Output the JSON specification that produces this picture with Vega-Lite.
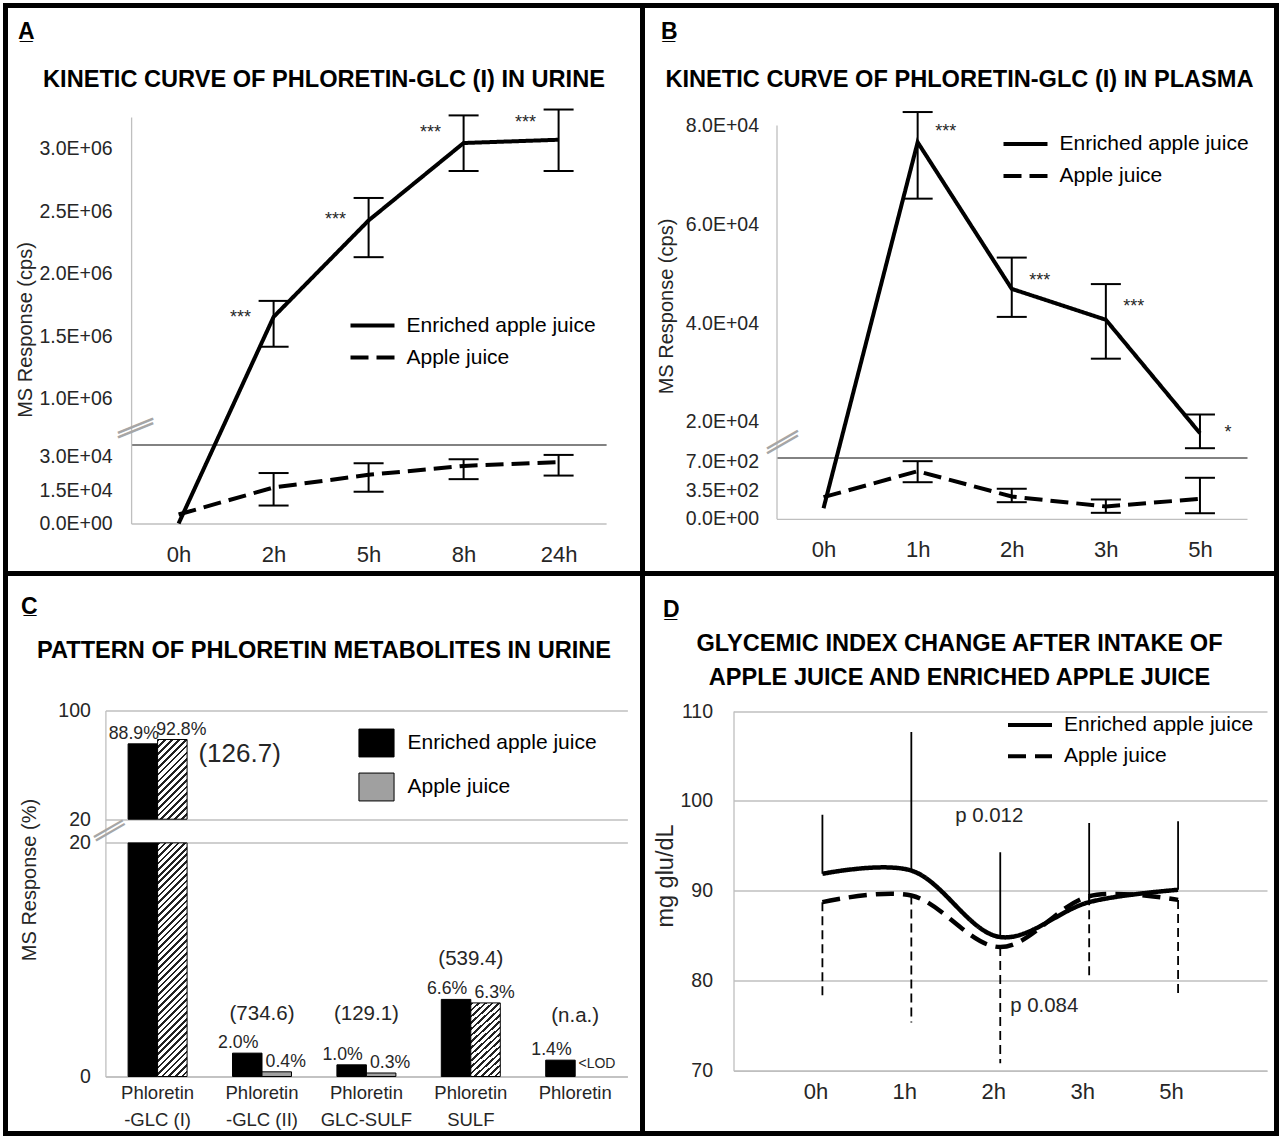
{
"$schema": "https://vega.github.io/schema/vega-lite/v6.json",
"background": "white",
"padding": {"left": 2.5, "top": 2.5, "right": 0, "bottom": 0},
"columns": 2,
"spacing": 0,
"bounds": "flush",
"resolve": {"scale": {"strokeDash": "independent", "fill": "independent", "xOffset": "independent"}, "legend": {"strokeDash": "independent", "fill": "independent"}},
"config": {
  "view": {"stroke": "black", "strokeWidth": 5, "fill": "white"},
  "font": "Liberation Sans",
  "axis": {"ticks": false, "grid": false, "domainColor": "#bfbfbf", "domainWidth": 1.3, "labelColor": "#262626", "labelFont": "Liberation Sans", "labelOverlap": false, "labelFlush": false, "labelBound": false, "titleFont": "Liberation Sans", "titleFontWeight": "normal", "titleColor": "#262626", "gridColor": "#bfbfbf", "gridWidth": 1.3},
  "legend": {"padding": 0, "labelFont": "Liberation Sans", "labelFontSize": 21, "labelColor": "black", "labelLimit": 400},
  "title": {"font": "Liberation Sans", "fontWeight": "bold", "fontSize": 23.6, "color": "black", "anchor": "middle", "frame": "group"},
  "text": {"font": "Liberation Sans", "color": "#262626"}
},
"concat": [
  {
   "width": 637, "height": 568,
   "title": {"text": "KINETIC CURVE OF PHLORETIN-GLC (I) IN URINE", "offset": -86},
   "data": {"values": [
     {"time": "0h", "series": "Enriched apple juice", "value": 0, "lo": null, "hi": null},
     {"time": "2h", "series": "Enriched apple juice", "value": 1655000, "lo": 1416000, "hi": 1783000},
     {"time": "5h", "series": "Enriched apple juice", "value": 2427000, "lo": 2133000, "hi": 2607000},
     {"time": "8h", "series": "Enriched apple juice", "value": 3047000, "lo": 2823000, "hi": 3268000},
     {"time": "24h", "series": "Enriched apple juice", "value": 3073000, "lo": 2823000, "hi": 3315000},
     {"time": "0h", "series": "Apple juice", "value": 4060, "lo": null, "hi": null},
     {"time": "2h", "series": "Apple juice", "value": 16200, "lo": 8080, "hi": 22700},
     {"time": "5h", "series": "Apple juice", "value": 21900, "lo": 14290, "hi": 27100},
     {"time": "8h", "series": "Apple juice", "value": 25900, "lo": 19950, "hi": 28900},
     {"time": "24h", "series": "Apple juice", "value": 27600, "lo": 21560, "hi": 30850}
   ]},
   "encoding": {
     "x": {"field": "time", "type": "nominal", "sort": ["0h", "2h", "5h", "8h", "24h"],
       "scale": {"type": "point", "range": [125.6, 600.6], "padding": 0.5},
       "axis": {"offset": -50, "labelAngle": 0, "labelFontSize": 22, "labelPadding": 20.5, "title": "A\u0332", "titleFont": "Liberation Sans", "titleFontWeight": "bold", "titleFontSize": 23, "titleColor": "black", "titleAlign": "left", "titleBaseline": "alphabetic", "titleX": 12, "titleY": -485}},
     "y": {"field": "value", "type": "quantitative", "title": "MS Response (cps)",
       "scale": {"domain": [0, 35357, 630100, 3256000], "range": [518, 439.4, 439.4, 111.4], "nice": false, "zero": false},
       "axis": {"offset": -125.6, "values": [0, 15000, 30000, 35357, 1000000, 1500000, 2000000, 2500000, 3000000],
         "labelExpr": "datum.value == 35357 ? '' : datum.value == 0 ? '0.0E+00' : format(datum.value / pow(10, floor(log(datum.value) / LN10 + 1e-9)), '.1f') + 'E+' + (floor(log(datum.value) / LN10 + 1e-9) < 10 ? '0' : '') + floor(log(datum.value) / LN10 + 1e-9)",
         "labelFontSize": 19.5, "labelPadding": 19, "grid": true, "gridColor": "#595959",
         "gridOpacity": {"condition": {"test": "datum.value == 35357", "value": 1}, "value": 0},
         "titleFontSize": 20, "titleX": -106, "titleY": 324, "titleBaseline": "middle"}}
   },
   "layer": [
     {"mark": {"type": "line", "color": "black", "strokeWidth": 4},
      "encoding": {"order": {"value": null},
        "strokeDash": {"field": "series", "type": "nominal", "scale": {"domain": ["Enriched apple juice", "Apple juice"], "range": [[1, 0], [18, 8]]},
          "legend": {"orient": "none", "legendX": 355, "legendY": 308, "title": null, "symbolType": "M-2.2,0H2.2", "symbolSize": 400, "symbolStrokeWidth": 4, "symbolStrokeColor": "black", "labelOffset": 22, "rowPadding": 10}}}},
     {"mark": {"type": "rule", "color": "black", "strokeWidth": 2},
      "encoding": {"y": {"field": "lo", "type": "quantitative", "title": "MS Response (cps)"}, "y2": {"field": "hi"}}},
     {"mark": {"type": "tick", "color": "black", "size": 30, "thickness": 2, "opacity": 1},
      "encoding": {"y": {"field": "lo", "type": "quantitative", "title": "MS Response (cps)"}}},
     {"mark": {"type": "tick", "color": "black", "size": 30, "thickness": 2, "opacity": 1},
      "encoding": {"y": {"field": "hi", "type": "quantitative", "title": "MS Response (cps)"}}},
     {"data": {"values": [
        {"time": "2h", "ypos": 1690000, "stars": "***"},
        {"time": "5h", "ypos": 2471000, "stars": "***"},
        {"time": "8h", "ypos": 3169000, "stars": "***"},
        {"time": "24h", "ypos": 3251000, "stars": "***"}
      ]},
      "mark": {"type": "text", "fontSize": 18, "dx": -33, "dy": 10, "baseline": "alphabetic"},
      "encoding": {"y": {"field": "ypos", "type": "quantitative", "title": "MS Response (cps)"}, "text": {"field": "stars"}}},
     {"data": {"values": [
        {"time": "0h", "ypos": 779000, "brk": "\u2502"},
        {"time": "0h", "ypos": 743800, "brk": "\u2502"}
      ]},
      "mark": {"type": "text", "font": "DejaVu Sans", "fontSize": 32, "angle": 68, "align": "center", "baseline": "middle", "dx": -16.5, "dy": 40.8, "color": "#a6a6a6"},
      "encoding": {"y": {"field": "ypos", "type": "quantitative", "title": "MS Response (cps)"}, "text": {"field": "brk"}}}
   ]
  },
  {
   "width": 634, "height": 568,
   "title": {"text": "KINETIC CURVE OF PHLORETIN-GLC (I) IN PLASMA", "offset": -86},
   "data": {"values": [
     {"time": "0h", "series": "Enriched apple juice", "value": 130, "lo": null, "hi": null},
     {"time": "1h", "series": "Enriched apple juice", "value": 76700, "lo": 65250, "hi": 82830},
     {"time": "2h", "series": "Enriched apple juice", "value": 46940, "lo": 41250, "hi": 53290},
     {"time": "3h", "series": "Enriched apple juice", "value": 40670, "lo": 32770, "hi": 47910},
     {"time": "5h", "series": "Enriched apple juice", "value": 17645, "lo": 14600, "hi": 21440},
     {"time": "0h", "series": "Apple juice", "value": 264, "lo": null, "hi": null},
     {"time": "1h", "series": "Apple juice", "value": 582, "lo": 447, "hi": 704},
     {"time": "2h", "series": "Apple juice", "value": 272, "lo": 203, "hi": 367},
     {"time": "3h", "series": "Apple juice", "value": 150, "lo": 73, "hi": 236},
     {"time": "5h", "series": "Apple juice", "value": 244, "lo": 68, "hi": 501}
   ]},
   "encoding": {
     "x": {"field": "time", "type": "nominal", "sort": ["0h", "1h", "2h", "3h", "5h"],
       "scale": {"type": "point", "range": [134, 604.5], "padding": 0.5},
       "axis": {"offset": -54.7, "labelAngle": 0, "labelFontSize": 22, "labelPadding": 20.7, "title": "B\u0332", "titleFont": "Liberation Sans", "titleFontWeight": "bold", "titleFontSize": 23, "titleColor": "black", "titleAlign": "left", "titleBaseline": "alphabetic", "titleX": 18, "titleY": -480}},
     "y": {"field": "value", "type": "quantitative", "title": "MS Response (cps)",
       "scale": {"domain": [0, 752.5, 12774, 80220], "range": [513.3, 451.7, 451.7, 119.4], "nice": false, "zero": false},
       "axis": {"offset": -134, "values": [0, 350, 700, 752.5, 20000, 40000, 60000, 80000],
         "labelExpr": "datum.value == 752.5 ? '' : datum.value == 0 ? '0.0E+00' : format(datum.value / pow(10, floor(log(datum.value) / LN10 + 1e-9)), '.1f') + 'E+' + (floor(log(datum.value) / LN10 + 1e-9) < 10 ? '0' : '') + floor(log(datum.value) / LN10 + 1e-9)",
         "labelFontSize": 19.5, "labelPadding": 18, "grid": true, "gridColor": "#595959",
         "gridOpacity": {"condition": {"test": "datum.value == 752.5", "value": 1}, "value": 0},
         "titleFontSize": 20, "titleX": -110.5, "titleY": 300.5, "titleBaseline": "middle"}}
   },
   "layer": [
     {"mark": {"type": "line", "color": "black", "strokeWidth": 4},
      "encoding": {"order": {"value": null},
        "strokeDash": {"field": "series", "type": "nominal", "scale": {"domain": ["Enriched apple juice", "Apple juice"], "range": [[1, 0], [18, 8]]},
          "legend": {"orient": "none", "legendX": 371, "legendY": 126.5, "title": null, "symbolType": "M-2.2,0H2.2", "symbolSize": 400, "symbolStrokeWidth": 4, "symbolStrokeColor": "black", "labelOffset": 22, "rowPadding": 10}}}},
     {"mark": {"type": "rule", "color": "black", "strokeWidth": 2},
      "encoding": {"y": {"field": "lo", "type": "quantitative", "title": "MS Response (cps)"}, "y2": {"field": "hi"}}},
     {"mark": {"type": "tick", "color": "black", "size": 30, "thickness": 2, "opacity": 1},
      "encoding": {"y": {"field": "lo", "type": "quantitative", "title": "MS Response (cps)"}}},
     {"mark": {"type": "tick", "color": "black", "size": 30, "thickness": 2, "opacity": 1},
      "encoding": {"y": {"field": "hi", "type": "quantitative", "title": "MS Response (cps)"}}},
     {"data": {"values": [
        {"time": "1h", "ypos": 79700, "stars": "***"},
        {"time": "2h", "ypos": 49530, "stars": "***"},
        {"time": "3h", "ypos": 44280, "stars": "***"},
        {"time": "5h", "ypos": 18780, "stars": "*"}
      ]},
      "mark": {"type": "text", "fontSize": 18, "dx": 28, "dy": 10, "baseline": "alphabetic"},
      "encoding": {"y": {"field": "ypos", "type": "quantitative", "title": "MS Response (cps)"}, "text": {"field": "stars"}}},
     {"data": {"values": [
        {"time": "0h", "ypos": 16164, "brk": "\u2502"},
        {"time": "0h", "ypos": 15230, "brk": "\u2502"}
      ]},
      "mark": {"type": "text", "font": "DejaVu Sans", "fontSize": 30, "angle": 60, "align": "center", "baseline": "middle", "dx": -21.2, "dy": 36.6, "color": "#a6a6a6"},
      "encoding": {"y": {"field": "ypos", "type": "quantitative", "title": "MS Response (cps)"}, "text": {"field": "brk"}}}
   ]
  },
  {
   "width": 637, "height": 560,
   "title": {"text": "PATTERN OF PHLORETIN METABOLITES IN URINE", "offset": -89},
   "data": {"values": [
     {"metabolite": "Phloretin-GLC (I)", "series": "Enriched apple juice", "value": 75.4, "label": "88.9%"},
     {"metabolite": "Phloretin-GLC (I)", "series": "Apple juice", "value": 78.6, "label": "92.8%"},
     {"metabolite": "Phloretin-GLC (II)", "series": "Enriched apple juice", "value": 2.0, "label": "2.0%"},
     {"metabolite": "Phloretin-GLC (II)", "series": "Apple juice", "value": 0.4, "label": "0.4%"},
     {"metabolite": "Phloretin GLC-SULF", "series": "Enriched apple juice", "value": 1.0, "label": "1.0%"},
     {"metabolite": "Phloretin GLC-SULF", "series": "Apple juice", "value": 0.3, "label": "0.3%"},
     {"metabolite": "Phloretin SULF", "series": "Enriched apple juice", "value": 6.6, "label": "6.6%"},
     {"metabolite": "Phloretin SULF", "series": "Apple juice", "value": 6.3, "label": "6.3%"},
     {"metabolite": "Phloretin", "series": "Enriched apple juice", "value": 1.4, "label": "1.4%"}
   ]},
   "encoding": {
     "x": {"field": "metabolite", "type": "nominal", "sort": ["Phloretin-GLC (I)", "Phloretin-GLC (II)", "Phloretin GLC-SULF", "Phloretin SULF", "Phloretin"],
       "scale": {"type": "band", "range": [99.9, 621.9], "paddingInner": 0.435, "paddingOuter": 0.2175},
       "axis": {"offset": -57, "labelAngle": 0, "labelFontSize": 18.5, "labelPadding": 7.2, "labelLineHeight": 27,
         "labelExpr": "datum.label == 'Phloretin' ? 'Phloretin' : ['Phloretin', trim(substring(datum.label, 9))]",
         "title": "C\u0332", "titleFont": "Liberation Sans", "titleFontWeight": "bold", "titleFontSize": 23, "titleColor": "black", "titleAlign": "left", "titleBaseline": "alphabetic", "titleX": 15, "titleY": -463.5}}
   },
   "layer": [
     {"transform": [{"filter": "datum.value <= 20"}],
      "mark": {"type": "bar", "stroke": "black", "strokeWidth": 1},
      "encoding": {
        "xOffset": {"field": "series", "type": "nominal", "sort": ["Enriched apple juice", "Apple juice"], "scale": {"paddingInner": 0, "paddingOuter": 0}},
        "y": {"field": "value", "type": "quantitative", "title": "MS Response (%)",
          "scale": {"domain": [0, 20, 20.0001, 100], "range": [503, 269.4, 245.7, 136.9], "nice": false, "zero": false},
          "axis": {"offset": -99.9, "values": [0, 20, 20.0001, 100], "labelExpr": "format(round(datum.value), 'd')", "labelFontSize": 19.5, "labelPadding": 15, "grid": true, "titleFontSize": 20, "titleX": -76.3, "titleY": 306, "titleBaseline": "middle"}},
        "fill": {"field": "series", "type": "nominal",
          "condition": {"test": "datum.series == 'Apple juice' && datum.value > 5", "value": {"gradient": "linear", "x1": 0, "y1": 0, "x2": 0.446, "y2": 1.205, "stops": [
            {"offset": 0, "color": "#222"}, {"offset": 0.025, "color": "#222"}, {"offset": 0.025, "color": "#fff"}, {"offset": 0.0625, "color": "#fff"},
            {"offset": 0.0625, "color": "#222"}, {"offset": 0.0875, "color": "#222"}, {"offset": 0.0875, "color": "#fff"}, {"offset": 0.125, "color": "#fff"},
            {"offset": 0.125, "color": "#222"}, {"offset": 0.15, "color": "#222"}, {"offset": 0.15, "color": "#fff"}, {"offset": 0.1875, "color": "#fff"},
            {"offset": 0.1875, "color": "#222"}, {"offset": 0.2125, "color": "#222"}, {"offset": 0.2125, "color": "#fff"}, {"offset": 0.25, "color": "#fff"},
            {"offset": 0.25, "color": "#222"}, {"offset": 0.275, "color": "#222"}, {"offset": 0.275, "color": "#fff"}, {"offset": 0.3125, "color": "#fff"},
            {"offset": 0.3125, "color": "#222"}, {"offset": 0.3375, "color": "#222"}, {"offset": 0.3375, "color": "#fff"}, {"offset": 0.375, "color": "#fff"},
            {"offset": 0.375, "color": "#222"}, {"offset": 0.4, "color": "#222"}, {"offset": 0.4, "color": "#fff"}, {"offset": 0.4375, "color": "#fff"},
            {"offset": 0.4375, "color": "#222"}, {"offset": 0.4625, "color": "#222"}, {"offset": 0.4625, "color": "#fff"}, {"offset": 0.5, "color": "#fff"},
            {"offset": 0.5, "color": "#222"}, {"offset": 0.525, "color": "#222"}, {"offset": 0.525, "color": "#fff"}, {"offset": 0.5625, "color": "#fff"},
            {"offset": 0.5625, "color": "#222"}, {"offset": 0.5875, "color": "#222"}, {"offset": 0.5875, "color": "#fff"}, {"offset": 0.625, "color": "#fff"},
            {"offset": 0.625, "color": "#222"}, {"offset": 0.65, "color": "#222"}, {"offset": 0.65, "color": "#fff"}, {"offset": 0.6875, "color": "#fff"},
            {"offset": 0.6875, "color": "#222"}, {"offset": 0.7125, "color": "#222"}, {"offset": 0.7125, "color": "#fff"}, {"offset": 0.75, "color": "#fff"},
            {"offset": 0.75, "color": "#222"}, {"offset": 0.775, "color": "#222"}, {"offset": 0.775, "color": "#fff"}, {"offset": 0.8125, "color": "#fff"},
            {"offset": 0.8125, "color": "#222"}, {"offset": 0.8375, "color": "#222"}, {"offset": 0.8375, "color": "#fff"}, {"offset": 0.875, "color": "#fff"},
            {"offset": 0.875, "color": "#222"}, {"offset": 0.9, "color": "#222"}, {"offset": 0.9, "color": "#fff"}, {"offset": 0.9375, "color": "#fff"},
            {"offset": 0.9375, "color": "#222"}, {"offset": 0.9625, "color": "#222"}, {"offset": 0.9625, "color": "#fff"}, {"offset": 1, "color": "#fff"}
          ]}},
          "scale": {"domain": ["Enriched apple juice", "Apple juice"], "range": ["black", "#a0a0a0"]},
          "legend": {"orient": "none", "legendX": 355.5, "legendY": 154, "title": null, "symbolType": "M-1.17,-0.93H1.17V0.93H-1.17Z", "symbolSize": 900, "symbolStrokeColor": "black", "symbolStrokeWidth": 1, "labelOffset": 15.5, "rowPadding": 11}}}},
     {"transform": [{"filter": "datum.value > 20"}],
      "mark": {"type": "bar", "stroke": "black", "strokeWidth": 1},
      "encoding": {
        "xOffset": {"field": "series", "type": "nominal", "sort": ["Enriched apple juice", "Apple juice"]},
        "y": {"datum": 20, "type": "quantitative", "title": "MS Response (%)"},
        "y2": {"datum": 0},
        "fill": {"field": "series", "type": "nominal",
          "condition": {"test": "datum.series == 'Apple juice'", "value": {"gradient": "linear", "x1": 0, "y1": 0, "x2": 0.14, "y2": 1.1086, "stops": [
            {"offset": 0, "color": "#222"}, {"offset": 0.01, "color": "#222"}, {"offset": 0.01, "color": "#fff"}, {"offset": 0.025, "color": "#fff"},
            {"offset": 0.025, "color": "#222"}, {"offset": 0.035, "color": "#222"}, {"offset": 0.035, "color": "#fff"}, {"offset": 0.05, "color": "#fff"},
            {"offset": 0.05, "color": "#222"}, {"offset": 0.06, "color": "#222"}, {"offset": 0.06, "color": "#fff"}, {"offset": 0.075, "color": "#fff"},
            {"offset": 0.075, "color": "#222"}, {"offset": 0.085, "color": "#222"}, {"offset": 0.085, "color": "#fff"}, {"offset": 0.1, "color": "#fff"},
            {"offset": 0.1, "color": "#222"}, {"offset": 0.11, "color": "#222"}, {"offset": 0.11, "color": "#fff"}, {"offset": 0.125, "color": "#fff"},
            {"offset": 0.125, "color": "#222"}, {"offset": 0.135, "color": "#222"}, {"offset": 0.135, "color": "#fff"}, {"offset": 0.15, "color": "#fff"},
            {"offset": 0.15, "color": "#222"}, {"offset": 0.16, "color": "#222"}, {"offset": 0.16, "color": "#fff"}, {"offset": 0.175, "color": "#fff"},
            {"offset": 0.175, "color": "#222"}, {"offset": 0.185, "color": "#222"}, {"offset": 0.185, "color": "#fff"}, {"offset": 0.2, "color": "#fff"},
            {"offset": 0.2, "color": "#222"}, {"offset": 0.21, "color": "#222"}, {"offset": 0.21, "color": "#fff"}, {"offset": 0.225, "color": "#fff"},
            {"offset": 0.225, "color": "#222"}, {"offset": 0.235, "color": "#222"}, {"offset": 0.235, "color": "#fff"}, {"offset": 0.25, "color": "#fff"},
            {"offset": 0.25, "color": "#222"}, {"offset": 0.26, "color": "#222"}, {"offset": 0.26, "color": "#fff"}, {"offset": 0.275, "color": "#fff"},
            {"offset": 0.275, "color": "#222"}, {"offset": 0.285, "color": "#222"}, {"offset": 0.285, "color": "#fff"}, {"offset": 0.3, "color": "#fff"},
            {"offset": 0.3, "color": "#222"}, {"offset": 0.31, "color": "#222"}, {"offset": 0.31, "color": "#fff"}, {"offset": 0.325, "color": "#fff"},
            {"offset": 0.325, "color": "#222"}, {"offset": 0.335, "color": "#222"}, {"offset": 0.335, "color": "#fff"}, {"offset": 0.35, "color": "#fff"},
            {"offset": 0.35, "color": "#222"}, {"offset": 0.36, "color": "#222"}, {"offset": 0.36, "color": "#fff"}, {"offset": 0.375, "color": "#fff"},
            {"offset": 0.375, "color": "#222"}, {"offset": 0.385, "color": "#222"}, {"offset": 0.385, "color": "#fff"}, {"offset": 0.4, "color": "#fff"},
            {"offset": 0.4, "color": "#222"}, {"offset": 0.41, "color": "#222"}, {"offset": 0.41, "color": "#fff"}, {"offset": 0.425, "color": "#fff"},
            {"offset": 0.425, "color": "#222"}, {"offset": 0.435, "color": "#222"}, {"offset": 0.435, "color": "#fff"}, {"offset": 0.45, "color": "#fff"},
            {"offset": 0.45, "color": "#222"}, {"offset": 0.46, "color": "#222"}, {"offset": 0.46, "color": "#fff"}, {"offset": 0.475, "color": "#fff"},
            {"offset": 0.475, "color": "#222"}, {"offset": 0.485, "color": "#222"}, {"offset": 0.485, "color": "#fff"}, {"offset": 0.5, "color": "#fff"},
            {"offset": 0.5, "color": "#222"}, {"offset": 0.51, "color": "#222"}, {"offset": 0.51, "color": "#fff"}, {"offset": 0.525, "color": "#fff"},
            {"offset": 0.525, "color": "#222"}, {"offset": 0.535, "color": "#222"}, {"offset": 0.535, "color": "#fff"}, {"offset": 0.55, "color": "#fff"},
            {"offset": 0.55, "color": "#222"}, {"offset": 0.56, "color": "#222"}, {"offset": 0.56, "color": "#fff"}, {"offset": 0.575, "color": "#fff"},
            {"offset": 0.575, "color": "#222"}, {"offset": 0.585, "color": "#222"}, {"offset": 0.585, "color": "#fff"}, {"offset": 0.6, "color": "#fff"},
            {"offset": 0.6, "color": "#222"}, {"offset": 0.61, "color": "#222"}, {"offset": 0.61, "color": "#fff"}, {"offset": 0.625, "color": "#fff"},
            {"offset": 0.625, "color": "#222"}, {"offset": 0.635, "color": "#222"}, {"offset": 0.635, "color": "#fff"}, {"offset": 0.65, "color": "#fff"},
            {"offset": 0.65, "color": "#222"}, {"offset": 0.66, "color": "#222"}, {"offset": 0.66, "color": "#fff"}, {"offset": 0.675, "color": "#fff"},
            {"offset": 0.675, "color": "#222"}, {"offset": 0.685, "color": "#222"}, {"offset": 0.685, "color": "#fff"}, {"offset": 0.7, "color": "#fff"},
            {"offset": 0.7, "color": "#222"}, {"offset": 0.71, "color": "#222"}, {"offset": 0.71, "color": "#fff"}, {"offset": 0.725, "color": "#fff"},
            {"offset": 0.725, "color": "#222"}, {"offset": 0.735, "color": "#222"}, {"offset": 0.735, "color": "#fff"}, {"offset": 0.75, "color": "#fff"},
            {"offset": 0.75, "color": "#222"}, {"offset": 0.76, "color": "#222"}, {"offset": 0.76, "color": "#fff"}, {"offset": 0.775, "color": "#fff"},
            {"offset": 0.775, "color": "#222"}, {"offset": 0.785, "color": "#222"}, {"offset": 0.785, "color": "#fff"}, {"offset": 0.8, "color": "#fff"},
            {"offset": 0.8, "color": "#222"}, {"offset": 0.81, "color": "#222"}, {"offset": 0.81, "color": "#fff"}, {"offset": 0.825, "color": "#fff"},
            {"offset": 0.825, "color": "#222"}, {"offset": 0.835, "color": "#222"}, {"offset": 0.835, "color": "#fff"}, {"offset": 0.85, "color": "#fff"},
            {"offset": 0.85, "color": "#222"}, {"offset": 0.86, "color": "#222"}, {"offset": 0.86, "color": "#fff"}, {"offset": 0.875, "color": "#fff"},
            {"offset": 0.875, "color": "#222"}, {"offset": 0.885, "color": "#222"}, {"offset": 0.885, "color": "#fff"}, {"offset": 0.9, "color": "#fff"},
            {"offset": 0.9, "color": "#222"}, {"offset": 0.91, "color": "#222"}, {"offset": 0.91, "color": "#fff"}, {"offset": 0.925, "color": "#fff"},
            {"offset": 0.925, "color": "#222"}, {"offset": 0.935, "color": "#222"}, {"offset": 0.935, "color": "#fff"}, {"offset": 0.95, "color": "#fff"},
            {"offset": 0.95, "color": "#222"}, {"offset": 0.96, "color": "#222"}, {"offset": 0.96, "color": "#fff"}, {"offset": 0.975, "color": "#fff"},
            {"offset": 0.975, "color": "#222"}, {"offset": 0.985, "color": "#222"}, {"offset": 0.985, "color": "#fff"}, {"offset": 1, "color": "#fff"}
          ]}}}}},
     {"transform": [{"filter": "datum.value > 20"}],
      "mark": {"type": "bar", "stroke": "black", "strokeWidth": 1},
      "encoding": {
        "xOffset": {"field": "series", "type": "nominal", "sort": ["Enriched apple juice", "Apple juice"]},
        "y": {"field": "value", "type": "quantitative", "title": "MS Response (%)"},
        "y2": {"datum": 20.0001},
        "fill": {"field": "series", "type": "nominal",
          "condition": {"test": "datum.series == 'Apple juice'", "value": {"gradient": "linear", "x1": 0, "y1": 0, "x2": 0.446, "y2": 1.205, "stops": [
            {"offset": 0, "color": "#222"}, {"offset": 0.025, "color": "#222"}, {"offset": 0.025, "color": "#fff"}, {"offset": 0.0625, "color": "#fff"},
            {"offset": 0.0625, "color": "#222"}, {"offset": 0.0875, "color": "#222"}, {"offset": 0.0875, "color": "#fff"}, {"offset": 0.125, "color": "#fff"},
            {"offset": 0.125, "color": "#222"}, {"offset": 0.15, "color": "#222"}, {"offset": 0.15, "color": "#fff"}, {"offset": 0.1875, "color": "#fff"},
            {"offset": 0.1875, "color": "#222"}, {"offset": 0.2125, "color": "#222"}, {"offset": 0.2125, "color": "#fff"}, {"offset": 0.25, "color": "#fff"},
            {"offset": 0.25, "color": "#222"}, {"offset": 0.275, "color": "#222"}, {"offset": 0.275, "color": "#fff"}, {"offset": 0.3125, "color": "#fff"},
            {"offset": 0.3125, "color": "#222"}, {"offset": 0.3375, "color": "#222"}, {"offset": 0.3375, "color": "#fff"}, {"offset": 0.375, "color": "#fff"},
            {"offset": 0.375, "color": "#222"}, {"offset": 0.4, "color": "#222"}, {"offset": 0.4, "color": "#fff"}, {"offset": 0.4375, "color": "#fff"},
            {"offset": 0.4375, "color": "#222"}, {"offset": 0.4625, "color": "#222"}, {"offset": 0.4625, "color": "#fff"}, {"offset": 0.5, "color": "#fff"},
            {"offset": 0.5, "color": "#222"}, {"offset": 0.525, "color": "#222"}, {"offset": 0.525, "color": "#fff"}, {"offset": 0.5625, "color": "#fff"},
            {"offset": 0.5625, "color": "#222"}, {"offset": 0.5875, "color": "#222"}, {"offset": 0.5875, "color": "#fff"}, {"offset": 0.625, "color": "#fff"},
            {"offset": 0.625, "color": "#222"}, {"offset": 0.65, "color": "#222"}, {"offset": 0.65, "color": "#fff"}, {"offset": 0.6875, "color": "#fff"},
            {"offset": 0.6875, "color": "#222"}, {"offset": 0.7125, "color": "#222"}, {"offset": 0.7125, "color": "#fff"}, {"offset": 0.75, "color": "#fff"},
            {"offset": 0.75, "color": "#222"}, {"offset": 0.775, "color": "#222"}, {"offset": 0.775, "color": "#fff"}, {"offset": 0.8125, "color": "#fff"},
            {"offset": 0.8125, "color": "#222"}, {"offset": 0.8375, "color": "#222"}, {"offset": 0.8375, "color": "#fff"}, {"offset": 0.875, "color": "#fff"},
            {"offset": 0.875, "color": "#222"}, {"offset": 0.9, "color": "#222"}, {"offset": 0.9, "color": "#fff"}, {"offset": 0.9375, "color": "#fff"},
            {"offset": 0.9375, "color": "#222"}, {"offset": 0.9625, "color": "#222"}, {"offset": 0.9625, "color": "#fff"}, {"offset": 1, "color": "#fff"}
          ]}}}}},
     {"transform": [{"filter": "datum.series == 'Enriched apple juice'"}],
      "mark": {"type": "text", "fontSize": 17.7, "dx": -9, "dy": -5, "baseline": "alphabetic"},
      "encoding": {
        "xOffset": {"field": "series", "type": "nominal", "sort": ["Enriched apple juice", "Apple juice"]},
        "y": {"field": "value", "type": "quantitative", "title": "MS Response (%)"},
        "text": {"field": "label"}}},
     {"transform": [{"filter": "datum.series == 'Apple juice'"}],
      "mark": {"type": "text", "fontSize": 17.7, "dx": 9, "dy": -5, "baseline": "alphabetic"},
      "encoding": {
        "xOffset": {"field": "series", "type": "nominal", "sort": ["Enriched apple juice", "Apple juice"]},
        "y": {"field": "value", "type": "quantitative", "title": "MS Response (%)"},
        "text": {"field": "label"}}},
     {"data": {"values": [
        {"metabolite": "Phloretin-GLC (II)", "ypos": 5.31, "note": "(734.6)"},
        {"metabolite": "Phloretin GLC-SULF", "ypos": 5.31, "note": "(129.1)"},
        {"metabolite": "Phloretin SULF", "ypos": 10.02, "note": "(539.4)"},
        {"metabolite": "Phloretin", "ypos": 5.14, "note": "(n.a.)"}
      ]},
      "mark": {"type": "text", "fontSize": 20.5, "baseline": "middle"},
      "encoding": {"y": {"field": "ypos", "type": "quantitative", "title": "MS Response (%)"}, "text": {"field": "note"}}},
     {"data": {"values": [{"metabolite": "Phloretin-GLC (I)", "ypos": 68.3, "note": "(126.7)"}]},
      "mark": {"type": "text", "fontSize": 26, "baseline": "middle", "dx": 82},
      "encoding": {"y": {"field": "ypos", "type": "quantitative", "title": "MS Response (%)"}, "text": {"field": "note"}}},
     {"data": {"values": [{"metabolite": "Phloretin", "series": "Apple juice", "ypos": 1.1, "note": "<LOD"}]},
      "mark": {"type": "text", "fontSize": 14, "baseline": "middle", "dx": 7},
      "encoding": {
        "xOffset": {"field": "series", "type": "nominal", "sort": ["Enriched apple juice", "Apple juice"]},
        "y": {"field": "ypos", "type": "quantitative", "title": "MS Response (%)"}, "text": {"field": "note"}}},
     {"data": {"values": [{"metabolite": "Phloretin-GLC (I)", "ypos": 20, "brk": "\u2502"}]},
      "mark": {"type": "text", "font": "DejaVu Sans", "fontSize": 28, "angle": 60, "align": "center", "baseline": "middle", "dx": -37, "dy": 37.3, "color": "#a6a6a6"},
      "encoding": {"y": {"field": "ypos", "type": "quantitative", "title": "MS Response (%)"}, "text": {"field": "brk"}}},
     {"data": {"values": [{"metabolite": "Phloretin-GLC (I)", "ypos": 20, "brk": "\u2502"}]},
      "mark": {"type": "text", "font": "DejaVu Sans", "fontSize": 28, "angle": 60, "align": "center", "baseline": "middle", "dx": -33, "dy": 37.3, "color": "#a6a6a6"},
      "encoding": {"y": {"field": "ypos", "type": "quantitative", "title": "MS Response (%)"}, "text": {"field": "brk"}}}
   ]
  },
  {
   "width": 634, "height": 560,
   "title": {"text": ["GLYCEMIC INDEX CHANGE AFTER INTAKE OF", "APPLE JUICE AND ENRICHED APPLE JUICE"], "offset": -116, "lineHeight": 34},
   "data": {"values": [
     {"time": "0h", "series": "Enriched apple juice", "value": 91.9, "bar_end": 98.47},
     {"time": "1h", "series": "Enriched apple juice", "value": 92.26, "bar_end": 107.67},
     {"time": "2h", "series": "Enriched apple juice", "value": 84.87, "bar_end": 94.29},
     {"time": "3h", "series": "Enriched apple juice", "value": 88.75, "bar_end": 97.55},
     {"time": "5h", "series": "Enriched apple juice", "value": 90.12, "bar_end": 97.73},
     {"time": "0h", "series": "Apple juice", "value": 88.75, "bar_end": 78.15},
     {"time": "1h", "series": "Apple juice", "value": 89.49, "bar_end": 75.38},
     {"time": "2h", "series": "Apple juice", "value": 83.76, "bar_end": 70.83},
     {"time": "3h", "series": "Apple juice", "value": 89.4, "bar_end": 80.51},
     {"time": "5h", "series": "Apple juice", "value": 89.0, "bar_end": 78.59}
   ]},
   "encoding": {
     "x": {"field": "time", "type": "nominal", "sort": ["0h", "1h", "2h", "3h", "5h"],
       "scale": {"type": "point", "range": [91, 624.5], "padding": 1},
       "axis": {"offset": -62.7, "labelAngle": 0, "labelFontSize": 22, "labelPadding": 11, "labelOffset": -7, "title": "D\u0332", "titleFont": "Liberation Sans", "titleFontWeight": "bold", "titleFontSize": 23, "titleColor": "black", "titleAlign": "left", "titleBaseline": "alphabetic", "titleX": 20, "titleY": -454.3}},
     "y": {"field": "value", "type": "quantitative", "title": "mg glu/dL",
       "scale": {"domain": [70, 110], "range": [497.3, 137.5], "nice": false, "zero": false},
       "axis": {"offset": -91, "values": [70, 80, 90, 100, 110], "labelFontSize": 19.5, "labelPadding": 21, "grid": true,
         "titleFontSize": 23.5, "titleX": -68.5, "titleY": 302, "titleBaseline": "middle"}}
   },
   "layer": [
     {"mark": {"type": "line", "color": "black", "strokeWidth": 4.5, "interpolate": "catmull-rom"},
      "encoding": {"order": {"value": null},
        "strokeDash": {"field": "series", "type": "nominal", "scale": {"domain": ["Enriched apple juice", "Apple juice"], "range": [[1, 0], [18, 9]]},
          "legend": {"orient": "none", "legendX": 375.5, "legendY": 139.5, "title": null, "symbolType": "M-2.2,0H2.2", "symbolSize": 400, "symbolStrokeWidth": 4, "symbolStrokeColor": "black", "labelOffset": 22, "rowPadding": 9.3}}}},
     {"mark": {"type": "rule", "color": "black", "strokeWidth": 1.8},
      "encoding": {"y2": {"field": "bar_end"},
        "strokeDash": {"condition": {"test": "datum.series == 'Apple juice'", "value": [9, 5]}, "value": [1, 0]}}},
     {"data": {"values": [{"time": "2h", "ypos": 98.36, "label": "p 0.012"}]},
      "mark": {"type": "text", "fontSize": 20.4, "align": "left", "baseline": "middle", "dx": -45},
      "encoding": {"y": {"field": "ypos", "type": "quantitative", "title": "mg glu/dL"}, "text": {"field": "label"}}},
     {"data": {"values": [{"time": "2h", "ypos": 77.24, "label": "p 0.084"}]},
      "mark": {"type": "text", "fontSize": 20.4, "align": "left", "baseline": "middle", "dx": 10},
      "encoding": {"y": {"field": "ypos", "type": "quantitative", "title": "mg glu/dL"}, "text": {"field": "label"}}}
   ]
  }
]
}
